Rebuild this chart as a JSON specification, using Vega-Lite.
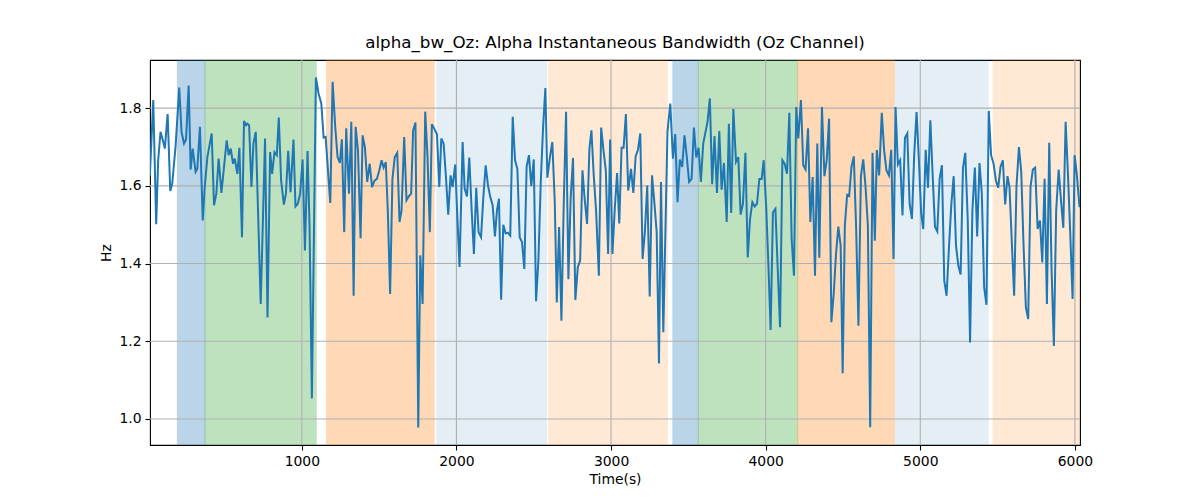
{
  "$schema": "https://vega.github.io/schema/vega-lite/v6.json",
  "width": 930,
  "height": 385,
  "autosize": {"type": "none"},
  "padding": {"left": 150, "top": 60, "right": 120, "bottom": 55},
  "background": "white",
  "title": {"text": "alpha_bw_Oz: Alpha Instantaneous Bandwidth (Oz Channel)", "font": "DejaVu Sans", "fontSize": 16.7, "fontWeight": "normal", "color": "black", "offset": 8, "anchor": "middle", "frame": "group"},
  "datasets": {
    "bands": [
      {"t": 195, "t_end": 374, "phase": "A"},
      {"t": 374, "t_end": 1093, "phase": "B"},
      {"t": 1160, "t_end": 1856, "phase": "C"},
      {"t": 1874, "t_end": 2582, "phase": "D"},
      {"t": 2597, "t_end": 3365, "phase": "E"},
      {"t": 3400, "t_end": 3564, "phase": "A"},
      {"t": 3564, "t_end": 4207, "phase": "B"},
      {"t": 4207, "t_end": 4832, "phase": "C"},
      {"t": 4838, "t_end": 5439, "phase": "D"},
      {"t": 5471, "t_end": 6080, "phase": "E"}
    ],
    "xgrid": [{"t": 1000}, {"t": 2000}, {"t": 3000}, {"t": 4000}, {"t": 5000}, {"t": 6000}],
    "ygrid": [{"hz": 1.0}, {"hz": 1.2}, {"hz": 1.4}, {"hz": 1.6}, {"hz": 1.8}],
    "series": [
      {"t":17,"hz":1.625},{"t":39,"hz":1.821},{"t":58,"hz":1.501},{"t":71,"hz":1.666},{"t":86,"hz":1.739},{"t":104,"hz":1.713},{"t":114,"hz":1.696},{"t":132,"hz":1.785},{"t":149,"hz":1.587},{"t":162,"hz":1.606},{"t":184,"hz":1.705},{"t":207,"hz":1.853},{"t":222,"hz":1.739},{"t":238,"hz":1.709},{"t":251,"hz":1.719},{"t":268,"hz":1.858},{"t":281,"hz":1.642},{"t":294,"hz":1.696},{"t":313,"hz":1.636},{"t":324,"hz":1.644},{"t":341,"hz":1.752},{"t":359,"hz":1.511},{"t":372,"hz":1.597},{"t":389,"hz":1.674},{"t":417,"hz":1.735},{"t":432,"hz":1.55},{"t":447,"hz":1.58},{"t":462,"hz":1.67},{"t":480,"hz":1.582},{"t":501,"hz":1.666},{"t":514,"hz":1.717},{"t":527,"hz":1.679},{"t":540,"hz":1.696},{"t":555,"hz":1.657},{"t":566,"hz":1.67},{"t":583,"hz":1.631},{"t":596,"hz":1.698},{"t":613,"hz":1.468},{"t":626,"hz":1.767},{"t":639,"hz":1.756},{"t":648,"hz":1.76},{"t":659,"hz":1.756},{"t":674,"hz":1.597},{"t":687,"hz":1.709},{"t":702,"hz":1.739},{"t":734,"hz":1.296},{"t":750,"hz":1.537},{"t":762,"hz":1.722},{"t":778,"hz":1.261},{"t":795,"hz":1.687},{"t":808,"hz":1.631},{"t":823,"hz":1.687},{"t":838,"hz":1.679},{"t":851,"hz":1.776},{"t":866,"hz":1.614},{"t":884,"hz":1.552},{"t":897,"hz":1.58},{"t":912,"hz":1.69},{"t":927,"hz":1.584},{"t":946,"hz":1.719},{"t":959,"hz":1.547},{"t":974,"hz":1.554},{"t":989,"hz":1.58},{"t":1005,"hz":1.668},{"t":1020,"hz":1.434},{"t":1037,"hz":1.69},{"t":1050,"hz":1.494},{"t":1065,"hz":1.053},{"t":1091,"hz":1.879},{"t":1108,"hz":1.838},{"t":1126,"hz":1.812},{"t":1141,"hz":1.724},{"t":1154,"hz":1.726},{"t":1169,"hz":1.64},{"t":1184,"hz":1.556},{"t":1199,"hz":1.868},{"t":1216,"hz":1.752},{"t":1231,"hz":1.674},{"t":1246,"hz":1.659},{"t":1259,"hz":1.72},{"t":1274,"hz":1.481},{"t":1287,"hz":1.748},{"t":1305,"hz":1.58},{"t":1320,"hz":1.765},{"t":1335,"hz":1.317},{"t":1348,"hz":1.752},{"t":1363,"hz":1.692},{"t":1380,"hz":1.465},{"t":1393,"hz":1.73},{"t":1408,"hz":1.7},{"t":1423,"hz":1.61},{"t":1439,"hz":1.657},{"t":1454,"hz":1.597},{"t":1471,"hz":1.614},{"t":1486,"hz":1.618},{"t":1501,"hz":1.64},{"t":1516,"hz":1.666},{"t":1529,"hz":1.647},{"t":1543,"hz":1.661},{"t":1556,"hz":1.537},{"t":1571,"hz":1.322},{"t":1586,"hz":1.618},{"t":1601,"hz":1.674},{"t":1617,"hz":1.685},{"t":1632,"hz":1.507},{"t":1645,"hz":1.537},{"t":1662,"hz":1.726},{"t":1677,"hz":1.563},{"t":1692,"hz":1.573},{"t":1707,"hz":1.58},{"t":1720,"hz":1.743},{"t":1735,"hz":1.763},{"t":1753,"hz":0.978},{"t":1766,"hz":1.421},{"t":1781,"hz":1.296},{"t":1798,"hz":1.791},{"t":1813,"hz":1.674},{"t":1828,"hz":1.481},{"t":1841,"hz":1.759},{"t":1858,"hz":1.746},{"t":1874,"hz":1.733},{"t":1889,"hz":1.597},{"t":1902,"hz":1.722},{"t":1917,"hz":1.709},{"t":1932,"hz":1.623},{"t":1947,"hz":1.526},{"t":1962,"hz":1.627},{"t":1975,"hz":1.597},{"t":1992,"hz":1.655},{"t":2005,"hz":1.528},{"t":2020,"hz":1.391},{"t":2040,"hz":1.713},{"t":2053,"hz":1.593},{"t":2068,"hz":1.573},{"t":2083,"hz":1.673},{"t":2098,"hz":1.541},{"t":2113,"hz":1.425},{"t":2128,"hz":1.595},{"t":2143,"hz":1.481},{"t":2159,"hz":1.468},{"t":2174,"hz":1.571},{"t":2189,"hz":1.653},{"t":2204,"hz":1.601},{"t":2219,"hz":1.571},{"t":2234,"hz":1.55},{"t":2249,"hz":1.47},{"t":2262,"hz":1.537},{"t":2275,"hz":1.567},{"t":2289,"hz":1.307},{"t":2303,"hz":1.5},{"t":2318,"hz":1.478},{"t":2333,"hz":1.479},{"t":2348,"hz":1.472},{"t":2364,"hz":1.778},{"t":2379,"hz":1.666},{"t":2394,"hz":1.644},{"t":2409,"hz":1.468},{"t":2424,"hz":1.455},{"t":2439,"hz":1.386},{"t":2454,"hz":1.65},{"t":2469,"hz":1.679},{"t":2484,"hz":1.599},{"t":2500,"hz":1.668},{"t":2515,"hz":1.303},{"t":2530,"hz":1.408},{"t":2545,"hz":1.606},{"t":2560,"hz":1.748},{"t":2575,"hz":1.852},{"t":2588,"hz":1.621},{"t":2605,"hz":1.674},{"t":2620,"hz":1.713},{"t":2636,"hz":1.558},{"t":2649,"hz":1.3},{"t":2664,"hz":1.494},{"t":2679,"hz":1.253},{"t":2694,"hz":1.554},{"t":2709,"hz":1.791},{"t":2724,"hz":1.36},{"t":2739,"hz":1.571},{"t":2754,"hz":1.672},{"t":2769,"hz":1.306},{"t":2785,"hz":1.391},{"t":2800,"hz":1.408},{"t":2815,"hz":1.64},{"t":2830,"hz":1.563},{"t":2845,"hz":1.502},{"t":2860,"hz":1.696},{"t":2873,"hz":1.743},{"t":2888,"hz":1.627},{"t":2903,"hz":1.537},{"t":2921,"hz":1.369},{"t":2936,"hz":1.75},{"t":2951,"hz":1.692},{"t":2966,"hz":1.64},{"t":2981,"hz":1.425},{"t":2994,"hz":1.719},{"t":3009,"hz":1.425},{"t":3024,"hz":1.541},{"t":3039,"hz":1.633},{"t":3053,"hz":1.503},{"t":3068,"hz":1.698},{"t":3081,"hz":1.698},{"t":3096,"hz":1.785},{"t":3111,"hz":1.588},{"t":3129,"hz":1.644},{"t":3144,"hz":1.582},{"t":3159,"hz":1.676},{"t":3174,"hz":1.693},{"t":3189,"hz":1.735},{"t":3204,"hz":1.412},{"t":3219,"hz":1.483},{"t":3234,"hz":1.601},{"t":3250,"hz":1.315},{"t":3265,"hz":1.627},{"t":3280,"hz":1.558},{"t":3295,"hz":1.481},{"t":3310,"hz":1.143},{"t":3323,"hz":1.61},{"t":3338,"hz":1.223},{"t":3365,"hz":1.74},{"t":3383,"hz":1.812},{"t":3400,"hz":1.67},{"t":3415,"hz":1.733},{"t":3430,"hz":1.558},{"t":3445,"hz":1.668},{"t":3460,"hz":1.649},{"t":3475,"hz":1.73},{"t":3490,"hz":1.674},{"t":3505,"hz":1.61},{"t":3521,"hz":1.618},{"t":3536,"hz":1.75},{"t":3551,"hz":1.673},{"t":3566,"hz":1.698},{"t":3581,"hz":1.61},{"t":3596,"hz":1.709},{"t":3624,"hz":1.765},{"t":3639,"hz":1.825},{"t":3654,"hz":1.604},{"t":3669,"hz":1.728},{"t":3685,"hz":1.582},{"t":3700,"hz":1.741},{"t":3715,"hz":1.59},{"t":3730,"hz":1.659},{"t":3748,"hz":1.507},{"t":3762,"hz":1.76},{"t":3777,"hz":1.53},{"t":3791,"hz":1.798},{"t":3808,"hz":1.662},{"t":3823,"hz":1.674},{"t":3838,"hz":1.526},{"t":3853,"hz":1.554},{"t":3869,"hz":1.685},{"t":3884,"hz":1.416},{"t":3899,"hz":1.515},{"t":3914,"hz":1.558},{"t":3929,"hz":1.547},{"t":3944,"hz":1.554},{"t":3959,"hz":1.618},{"t":3974,"hz":1.618},{"t":3987,"hz":1.666},{"t":4004,"hz":1.541},{"t":4019,"hz":1.382},{"t":4032,"hz":1.229},{"t":4047,"hz":1.532},{"t":4063,"hz":1.541},{"t":4078,"hz":1.386},{"t":4093,"hz":1.236},{"t":4108,"hz":1.666},{"t":4123,"hz":1.657},{"t":4138,"hz":1.631},{"t":4153,"hz":1.788},{"t":4168,"hz":1.464},{"t":4183,"hz":1.369},{"t":4198,"hz":1.803},{"t":4211,"hz":1.722},{"t":4228,"hz":1.821},{"t":4243,"hz":1.653},{"t":4258,"hz":1.642},{"t":4274,"hz":1.748},{"t":4289,"hz":1.507},{"t":4304,"hz":1.623},{"t":4319,"hz":1.369},{"t":4334,"hz":1.709},{"t":4347,"hz":1.415},{"t":4364,"hz":1.803},{"t":4380,"hz":1.625},{"t":4395,"hz":1.666},{"t":4410,"hz":1.773},{"t":4425,"hz":1.249},{"t":4440,"hz":1.322},{"t":4455,"hz":1.425},{"t":4470,"hz":1.495},{"t":4485,"hz":1.446},{"t":4498,"hz":1.118},{"t":4512,"hz":1.498},{"t":4527,"hz":1.577},{"t":4540,"hz":1.574},{"t":4555,"hz":1.649},{"t":4570,"hz":1.676},{"t":4585,"hz":1.494},{"t":4600,"hz":1.24},{"t":4616,"hz":1.625},{"t":4631,"hz":1.668},{"t":4646,"hz":1.597},{"t":4661,"hz":1.498},{"t":4676,"hz":0.979},{"t":4691,"hz":1.685},{"t":4706,"hz":1.459},{"t":4719,"hz":1.692},{"t":4734,"hz":1.627},{"t":4751,"hz":1.788},{"t":4766,"hz":1.692},{"t":4781,"hz":1.64},{"t":4797,"hz":1.627},{"t":4812,"hz":1.693},{"t":4827,"hz":1.412},{"t":4840,"hz":1.803},{"t":4855,"hz":1.655},{"t":4870,"hz":1.666},{"t":4885,"hz":1.524},{"t":4901,"hz":1.724},{"t":4916,"hz":1.735},{"t":4931,"hz":1.554},{"t":4946,"hz":1.515},{"t":4961,"hz":1.683},{"t":4976,"hz":1.79},{"t":4991,"hz":1.666},{"t":5006,"hz":1.528},{"t":5019,"hz":1.489},{"t":5035,"hz":1.693},{"t":5050,"hz":1.595},{"t":5065,"hz":1.769},{"t":5080,"hz":1.627},{"t":5095,"hz":1.495},{"t":5110,"hz":1.483},{"t":5125,"hz":1.618},{"t":5140,"hz":1.653},{"t":5155,"hz":1.356},{"t":5170,"hz":1.317},{"t":5185,"hz":1.438},{"t":5201,"hz":1.554},{"t":5216,"hz":1.625},{"t":5231,"hz":1.446},{"t":5246,"hz":1.395},{"t":5261,"hz":1.372},{"t":5276,"hz":1.646},{"t":5291,"hz":1.685},{"t":5307,"hz":1.511},{"t":5322,"hz":1.197},{"t":5337,"hz":1.537},{"t":5353,"hz":1.647},{"t":5368,"hz":1.47},{"t":5383,"hz":1.659},{"t":5398,"hz":1.58},{"t":5413,"hz":1.339},{"t":5428,"hz":1.294},{"t":5443,"hz":1.793},{"t":5458,"hz":1.679},{"t":5474,"hz":1.657},{"t":5489,"hz":1.614},{"t":5504,"hz":1.595},{"t":5519,"hz":1.649},{"t":5534,"hz":1.666},{"t":5549,"hz":1.552},{"t":5564,"hz":1.625},{"t":5577,"hz":1.597},{"t":5592,"hz":1.455},{"t":5607,"hz":1.317},{"t":5622,"hz":1.597},{"t":5638,"hz":1.7},{"t":5653,"hz":1.636},{"t":5668,"hz":1.446},{"t":5683,"hz":1.287},{"t":5698,"hz":1.257},{"t":5713,"hz":1.597},{"t":5728,"hz":1.642},{"t":5743,"hz":1.647},{"t":5759,"hz":1.489},{"t":5774,"hz":1.511},{"t":5789,"hz":1.403},{"t":5804,"hz":1.618},{"t":5819,"hz":1.296},{"t":5834,"hz":1.711},{"t":5849,"hz":1.386},{"t":5864,"hz":1.188},{"t":5879,"hz":1.537},{"t":5895,"hz":1.642},{"t":5910,"hz":1.563},{"t":5925,"hz":1.492},{"t":5940,"hz":1.765},{"t":5955,"hz":1.631},{"t":5970,"hz":1.477},{"t":5985,"hz":1.309},{"t":5998,"hz":1.679},{"t":6013,"hz":1.627},{"t":6030,"hz":1.545}
    ]
  },
  "layer": [
    {
      "data": {"name": "bands"},
      "mark": {"type": "rect", "clip": true, "strokeWidth": 1},
      "encoding": {
        "x": {"field": "t", "type": "quantitative", "scale": {"domain": [18, 6033], "nice": false, "zero": false}, "axis": {"title": "Time(s)", "values": [1000, 2000, 3000, 4000, 5000, 6000], "format": "d", "grid": false}},
        "x2": {"field": "t_end"},
        "color": {"field": "phase", "type": "nominal", "scale": {"domain": ["A", "B", "C", "D", "E"], "range": ["#1f77b4", "#2ca02c", "#ff7f0e", "#1f77b4", "#ff7f0e"]}, "legend": null},
        "stroke": {"field": "phase", "type": "nominal", "scale": {"domain": ["A", "B", "C", "D", "E"], "range": ["#1f77b4", "#2ca02c", "#ff7f0e", "#1f77b4", "#ff7f0e"]}, "legend": null},
        "opacity": {"field": "phase", "type": "nominal", "scale": {"type": "ordinal", "domain": ["A", "B", "C", "D", "E"], "range": [0.3, 0.3, 0.3, 0.12, 0.17]}, "legend": null}
      }
    },
    {
      "data": {"name": "xgrid"},
      "mark": {"type": "rule", "color": "#b0b0b0", "strokeWidth": 1.1},
      "encoding": {
        "x": {"field": "t", "type": "quantitative", "scale": {"domain": [18, 6033], "nice": false, "zero": false}, "axis": {"title": "Time(s)", "values": [1000, 2000, 3000, 4000, 5000, 6000], "format": "d", "grid": false}}
      }
    },
    {
      "data": {"name": "ygrid"},
      "mark": {"type": "rule", "color": "#b0b0b0", "strokeWidth": 1.1},
      "encoding": {
        "y": {"field": "hz", "type": "quantitative", "scale": {"domain": [0.933, 1.924], "nice": false, "zero": false}, "axis": {"title": "Hz", "values": [1.0, 1.2, 1.4, 1.6, 1.8], "format": ".1f", "grid": false}}
      }
    },
    {
      "data": {"name": "series"},
      "mark": {"type": "line", "color": "#1f77b4", "strokeWidth": 2, "clip": true},
      "encoding": {
        "x": {"field": "t", "type": "quantitative", "scale": {"domain": [18, 6033], "nice": false, "zero": false}, "axis": {"title": "Time(s)", "values": [1000, 2000, 3000, 4000, 5000, 6000], "format": "d", "grid": false}},
        "y": {"field": "hz", "type": "quantitative", "scale": {"domain": [0.933, 1.924], "nice": false, "zero": false}, "axis": {"title": "Hz", "values": [1.0, 1.2, 1.4, 1.6, 1.8], "format": ".1f", "grid": false}}
      }
    }
  ],
  "config": {
    "view": {"stroke": "black", "strokeWidth": 1.1},
    "axis": {
      "domain": false,
      "labelFont": "DejaVu Sans",
      "labelFontSize": 13.9,
      "labelColor": "black",
      "labelPadding": 4,
      "titleFont": "DejaVu Sans",
      "titleFontSize": 13.9,
      "titleFontWeight": "normal",
      "titleColor": "black",
      "titlePadding": 5,
      "tickColor": "black",
      "tickSize": 5,
      "tickWidth": 1.1
    }
  }
}
